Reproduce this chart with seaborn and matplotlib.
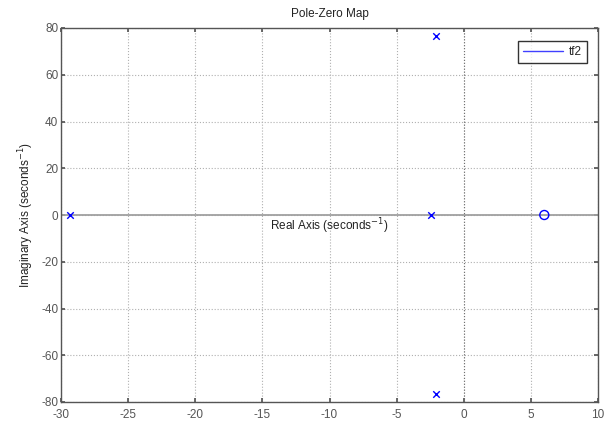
import matplotlib
matplotlib.use("Agg")
import matplotlib.pyplot as plt
import seaborn as sns
import pandas as pd

sns.set_theme(style="white")
plt.rcParams["font.family"] = ["Liberation Sans", "DejaVu Sans"]
plt.rcParams["axes.unicode_minus"] = False

# Poles and zeros of tf2
pole_re = [-29.3, -2.45, -2.05, -2.05]
pole_im = [0.0, 0.0, 76.6, -76.6]
zero_re = [6.0]
zero_im = [0.0]

x_ticks = [-30, -25, -20, -15, -10, -5, 0, 5, 10]
y_ticks = [-80, -60, -40, -20, 0, 20, 40, 60, 80]

poles = pd.DataFrame({"re": pole_re, "im": pole_im})
zeros = pd.DataFrame({"re": zero_re, "im": zero_im})

fig = plt.figure(figsize=(6.08, 4.21), dpi=100)
ax = fig.add_axes([61 / 608, 19 / 421, 537 / 608, 374 / 421])

ax.set_xlim(-30, 10)
ax.set_ylim(-80, 80)
ax.set_xticks(x_ticks)
ax.set_yticks(y_ticks)

# grid
ax.grid(True, color="#b0b0b0", linestyle=":", linewidth=0.8)
ax.axhline(0, color="#a0a0a0", linewidth=1.3, zorder=1)
ax.axvline(0, color="#707070", linewidth=0.8, linestyle=":", zorder=1)

sns.scatterplot(data=poles, x="re", y="im", marker="x", color="blue",
                s=22, linewidth=1.0, ax=ax, zorder=3, legend=False)
sns.scatterplot(data=zeros, x="re", y="im", marker="o", facecolor="none",
                edgecolor="blue", s=42, linewidth=1.0, ax=ax, zorder=3, legend=False)

# legend entry
ax.plot([], [], color="#4040ff", linewidth=1.0, label="tf2")
leg = ax.legend(loc="upper right", fontsize=8.5, frameon=True, fancybox=False,
                edgecolor="black", handlelength=3.4, handletextpad=0.5,
                borderpad=0.45, bbox_to_anchor=(0.991, 0.982))
leg.get_frame().set_linewidth(1.0)

for s in ax.spines.values():
    s.set_color("#555555")
    s.set_linewidth(1.0)

ax.tick_params(axis="both", direction="in", length=3, color="#555555",
               labelcolor="#555555", labelsize=8.5, top=True, right=True,
               bottom=True, left=True, pad=2)
ax.tick_params(axis="x", pad=5)

ax.set_xlabel("")
ax.set_ylabel(r"Imaginary Axis (seconds$^{\mathrm{-}1}$)", fontsize=8.5, color="#222222", labelpad=4)
ax.text(0.5, 0.47, r"Real Axis (seconds$^{\mathrm{-}1}$)", transform=ax.transAxes,
        ha="center", va="center", fontsize=8.5, color="#222222")
ax.set_title("Pole-Zero Map", fontsize=8.5, color="#222222", pad=8)

fig.savefig("out.png", dpi=100)
